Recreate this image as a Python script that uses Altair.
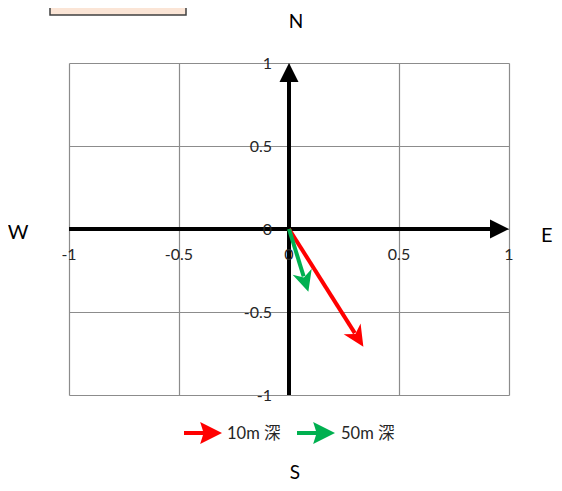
import altair as alt
import pandas as pd
import numpy as np

# ---- data ----
series = ["10m 深", "50m 深"]
east = [0.338, 0.088]          # x component
north = [-0.709, -0.378]       # y component
colors = ["#FF0000", "#00B050"]

tick_values = [-1, -0.5, 0, 0.5, 1]
tick_labels = ["-1", "-0.5", "0", "0.5", "1"]

axis_names = ["x", "y"]
axis_start_x = [-1, 0]
axis_start_y = [0, -1]
axis_end_x = [1, 0]
axis_end_y = [0, 1]

W, H = 440, 332
PX = W / 2.0   # pixels per unit x
PY = H / 2.0   # pixels per unit y
FONT = "Lato, 'Noto Sans CJK JP', sans-serif"

xs = alt.Scale(domain=[-1, 1], nice=False, zero=False)
ys = alt.Scale(domain=[-1, 1], nice=False, zero=False)

# ---- vectors ----
vec = pd.DataFrame({"series": series, "x": east, "y": north})
dxp = vec["x"] * PX
dyp = vec["y"] * PY
L = np.sqrt(dxp**2 + dyp**2)
vec["x0"] = 0.0
vec["y0"] = 0.0
vec["xe"] = vec["x"] - 16 * (dxp / L) / PX
vec["ye"] = vec["y"] - 16 * (dyp / L) / PY
vec["angle"] = np.degrees(np.arctan2(dxp, dyp)) % 360

# ---- axis arrows ----
ax = pd.DataFrame({"name": axis_names, "x0": axis_start_x, "y0": axis_start_y,
                   "x1": axis_end_x, "y1": axis_end_y})
adx = (ax["x1"] - ax["x0"]) * PX
ady = (ax["y1"] - ax["y0"]) * PY
AL = np.sqrt(adx**2 + ady**2)
ax["xe"] = ax["x1"] - 15 * (adx / AL) / PX
ax["ye"] = ax["y1"] - 15 * (ady / AL) / PY
ax["angle"] = np.degrees(np.arctan2(adx, ady)) % 360

xl = pd.DataFrame({"v": tick_values, "label": tick_labels, "zero": [0] * 5})
yl = pd.DataFrame({"v": tick_values, "label": tick_labels, "zero": [0] * 5})

head_path = "M0,0L1,2.1L0,1.5L-1,2.1Z"
tri_path = "M0,0L0.95,1.9L-0.95,1.9Z"
legend_path = "M-1,-0.1L0,-0.1L-0.15,-0.58L1,0L-0.15,0.58L0,0.1L-1,0.1Z"

color_scale = alt.Scale(domain=series, range=colors)

grid_axis_x = alt.Axis(values=tick_values, grid=True, labels=False, ticks=False,
                       domain=False, title=None, gridColor="#8c8c8c", gridWidth=1.2)
grid_axis_y = alt.Axis(values=tick_values, grid=True, labels=False, ticks=False,
                       domain=False, title=None, gridColor="#8c8c8c", gridWidth=1.2)

# axis lines (also carries grid)
axis_lines = alt.Chart(ax).mark_rule(color="black", strokeWidth=4).encode(
    x=alt.X("x0:Q", scale=xs, axis=grid_axis_x),
    y=alt.Y("y0:Q", scale=ys, axis=grid_axis_y),
    x2="xe:Q", y2="ye:Q",
)
axis_heads = alt.Chart(ax).mark_point(shape=tri_path, filled=True, size=400,
                                      color="black", opacity=1).encode(
    x=alt.X("x1:Q", scale=xs), y=alt.Y("y1:Q", scale=ys),
    angle=alt.Angle("angle:Q", scale=None),
)

xlabels = alt.Chart(xl).mark_text(font=FONT, fontSize=16, color="#262626",
                                  align="center", baseline="middle", dy=26).encode(
    x=alt.X("v:Q", scale=xs), y=alt.Y("zero:Q", scale=ys), text="label:N")
ylabels = alt.Chart(yl).mark_text(font=FONT, fontSize=16, color="#262626",
                                  align="right", baseline="middle", dx=-17, dy=1).encode(
    x=alt.X("zero:Q", scale=xs), y=alt.Y("v:Q", scale=ys), text="label:N")

shafts = alt.Chart(vec).mark_rule(strokeWidth=4, strokeCap="butt").encode(
    x=alt.X("x0:Q", scale=xs), y=alt.Y("y0:Q", scale=ys),
    x2="xe:Q", y2="ye:Q",
    stroke=alt.Stroke("series:N", scale=color_scale, legend=None),
)
heads = alt.Chart(vec).mark_point(shape=head_path, filled=True, size=400,
                                  opacity=1, strokeWidth=0).encode(
    x=alt.X("x:Q", scale=xs), y=alt.Y("y:Q", scale=ys),
    angle=alt.Angle("angle:Q", scale=None),
    fill=alt.Fill("series:N", scale=color_scale, legend=None),
)

# ---- legend (drawn from the series list) ----
def legend_item(i, sym_x, text_x, y):
    d = vec.iloc[[i]][["series"]]
    sym = alt.Chart(d).mark_point(shape=legend_path, filled=True, size=1444,
                                  opacity=1, strokeWidth=0).encode(
        x=alt.value(sym_x), y=alt.value(y),
        fill=alt.Fill("series:N", scale=color_scale, legend=None))
    txt = alt.Chart(d).mark_text(font=FONT, fontSize=16.5, color="#262626",
                                 align="left", baseline="middle").encode(
        x=alt.value(text_x), y=alt.value(y + 1), text="series:N")
    return sym + txt

legend = legend_item(0, 134, 158, 370) + legend_item(1, 247, 272, 370)

def label(t, x, y, align="center", size=20):
    return alt.Chart(pd.DataFrame({"t": [t]})).mark_text(
        font=FONT, fontSize=size, color="black", align=align, baseline="alphabetic"
    ).encode(text="t:N", x=alt.value(x), y=alt.value(y))

compass = (label("N", 227, -35, size=19) + label("S", 226, 416, size=19) +
           label("W", -51, 176) + label("E", 472, 179, "left"))

box = alt.Chart(pd.DataFrame({"k": [1]})).mark_rect(
    fill="#FBE5D6", stroke="#404040", strokeWidth=1.5
).encode(x=alt.value(-19), x2=alt.value(117), y=alt.value(-70), y2=alt.value(-48))

chart = alt.layer(
    axis_lines, box, xlabels, ylabels, axis_heads, shafts, heads, legend, compass
).properties(
    width=W, height=H,
    autosize=alt.AutoSizeParams(type="none"),
    padding={"left": 61, "top": 55, "right": 45, "bottom": 88},
).configure_view(stroke=None)

chart.save("out.html", embed_options={"renderer": "svg", "actions": False})
